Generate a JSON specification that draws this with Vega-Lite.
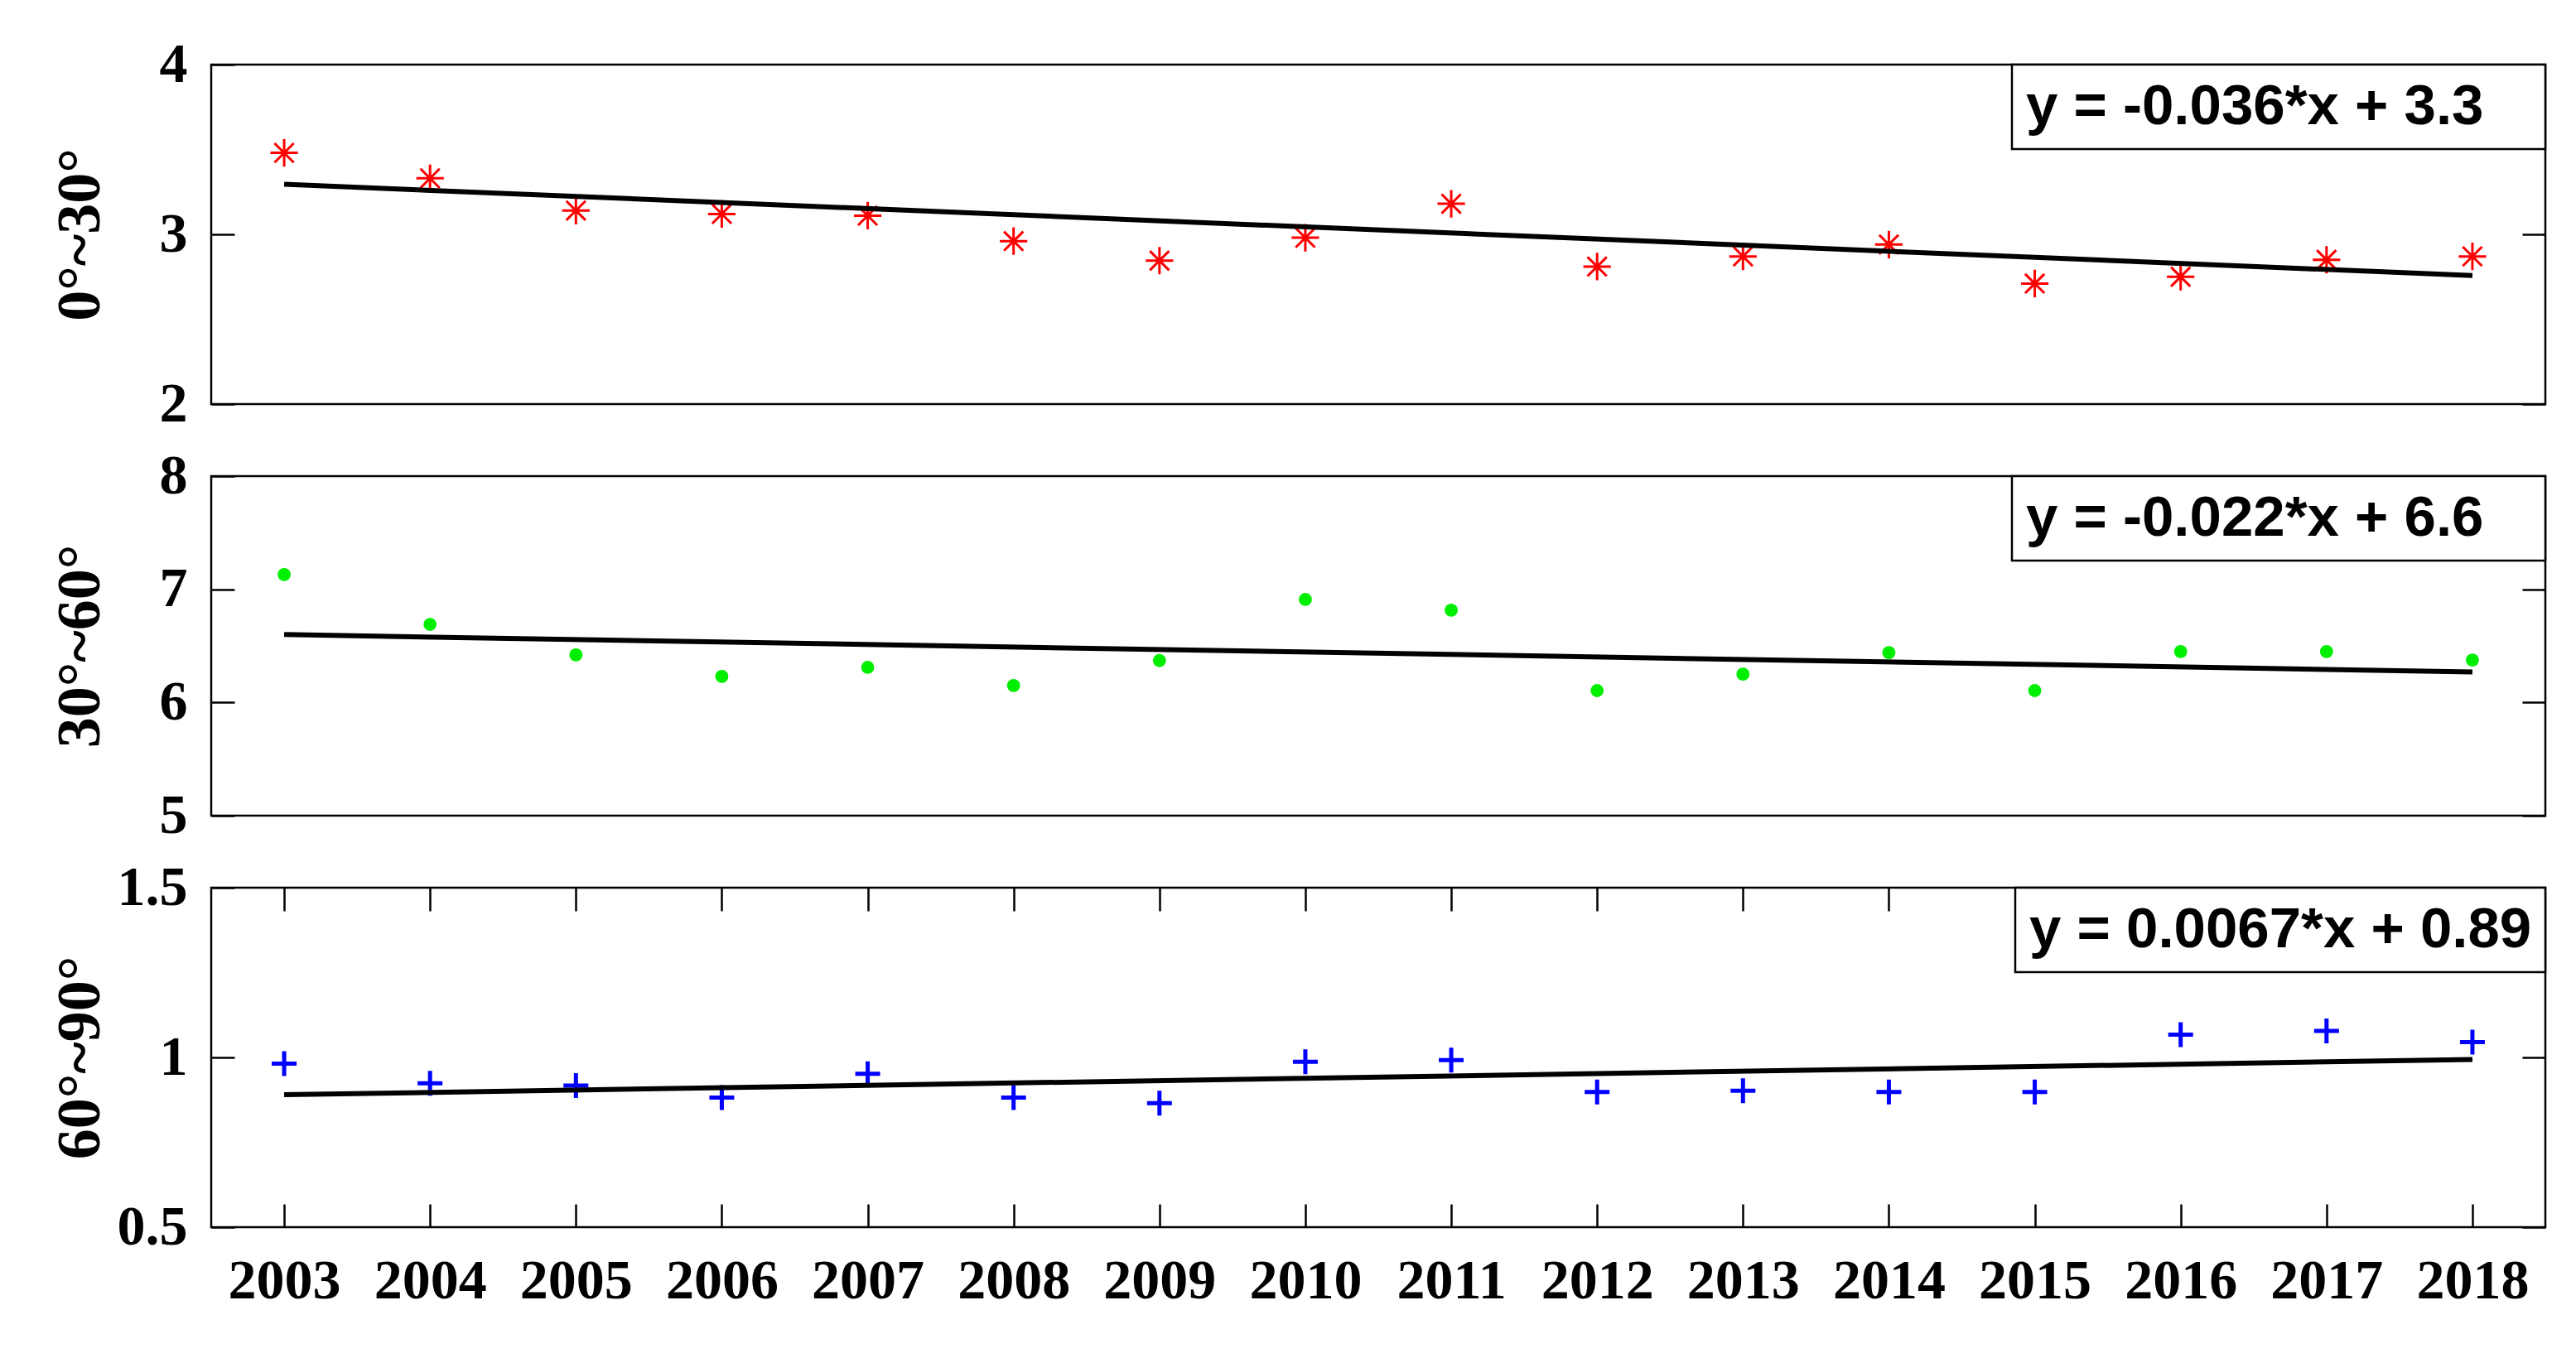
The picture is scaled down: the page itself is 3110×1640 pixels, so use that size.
{
  "$schema": "https://vega.github.io/schema/vega-lite/v6.json",
  "padding": {"left": 58, "top": 42, "right": 39, "bottom": 10},
  "background": "white",
  "spacing": 15,
  "datasets": {
    "p1": [
      {"year": 2003, "value": 3.48}, {"year": 2004, "value": 3.33}, {"year": 2005, "value": 3.14}, {"year": 2006, "value": 3.12},
      {"year": 2007, "value": 3.11}, {"year": 2008, "value": 2.96}, {"year": 2009, "value": 2.845}, {"year": 2010, "value": 2.98},
      {"year": 2011, "value": 3.18}, {"year": 2012, "value": 2.81}, {"year": 2013, "value": 2.87}, {"year": 2014, "value": 2.94},
      {"year": 2015, "value": 2.71}, {"year": 2016, "value": 2.75}, {"year": 2017, "value": 2.85}, {"year": 2018, "value": 2.87}
    ],
    "f1": [{"year": 2003, "value": 3.295}, {"year": 2018, "value": 2.757}],
    "p2": [
      {"year": 2003, "value": 7.13}, {"year": 2004, "value": 6.69}, {"year": 2005, "value": 6.42}, {"year": 2006, "value": 6.23},
      {"year": 2007, "value": 6.31}, {"year": 2008, "value": 6.15}, {"year": 2009, "value": 6.37}, {"year": 2010, "value": 6.91},
      {"year": 2011, "value": 6.815}, {"year": 2012, "value": 6.105}, {"year": 2013, "value": 6.25}, {"year": 2014, "value": 6.44},
      {"year": 2015, "value": 6.105}, {"year": 2016, "value": 6.45}, {"year": 2017, "value": 6.45}, {"year": 2018, "value": 6.375}
    ],
    "f2": [{"year": 2003, "value": 6.6}, {"year": 2018, "value": 6.27}],
    "p3": [
      {"year": 2003, "value": 0.982}, {"year": 2004, "value": 0.924}, {"year": 2005, "value": 0.917}, {"year": 2006, "value": 0.882},
      {"year": 2007, "value": 0.952}, {"year": 2008, "value": 0.882}, {"year": 2009, "value": 0.865}, {"year": 2010, "value": 0.987},
      {"year": 2011, "value": 0.992}, {"year": 2012, "value": 0.898}, {"year": 2013, "value": 0.902}, {"year": 2014, "value": 0.898},
      {"year": 2015, "value": 0.898}, {"year": 2016, "value": 1.067}, {"year": 2017, "value": 1.078}, {"year": 2018, "value": 1.045}
    ],
    "f3": [{"year": 2003, "value": 0.89}, {"year": 2018, "value": 0.994}]
  },
  "resolve": {"scale": {"color": "independent"}, "legend": {"color": "independent"}},
  "vconcat": [
    {
      "width": 2818, "height": 410,
      "resolve": {"scale": {"y": "independent"}},
      "layer": [
        {
          "data": {"name": "p1"},
          "mark": {"type": "point", "shape": "M0,-1L0,1M-1,0L1,0M-0.7,-0.7L0.7,0.7M-0.7,0.7L0.7,-0.7", "filled": false, "size": 1100, "strokeWidth": 3, "opacity": 1},
          "encoding": {
            "x": {"field": "year", "type": "quantitative", "scale": {"domain": [2002.5, 2018.5], "nice": false, "zero": false}, "axis": null},
            "y": {"field": "value", "type": "quantitative", "scale": {"domain": [2, 4], "nice": false, "zero": false},
                  "axis": {"orient": "left", "values": [2, 3, 4], "format": "~g", "ticks": true, "tickSize": -28, "title": "0°~30°", "titleX": -158, "titleY": 205, "titleAngle": -90, "titleAlign": "center", "titleBaseline": "middle"}},
            "color": {"datum": "y = -0.036*x + 3.3", "scale": {"range": ["#ff0000"]}, "legend": {"title": null, "symbolOffset": 577, "labelOffset": -645}}
          }
        },
        {
          "data": {"name": "f1"},
          "mark": {"type": "line", "color": "black", "strokeWidth": 6},
          "encoding": {
            "x": {"field": "year", "type": "quantitative", "scale": {"domain": [2002.5, 2018.5], "nice": false, "zero": false}, "axis": null},
            "y": {"field": "value", "type": "quantitative", "scale": {"domain": [2, 4], "nice": false, "zero": false},
                  "axis": {"orient": "right", "values": [2, 3, 4], "ticks": true, "tickSize": -28, "labels": false, "title": null}}
          }
        }
      ]
    },
    {
      "width": 2818, "height": 410,
      "resolve": {"scale": {"y": "independent"}},
      "layer": [
        {
          "data": {"name": "p2"},
          "mark": {"type": "point", "shape": "circle", "filled": true, "size": 250, "opacity": 1},
          "encoding": {
            "x": {"field": "year", "type": "quantitative", "scale": {"domain": [2002.5, 2018.5], "nice": false, "zero": false}, "axis": null},
            "y": {"field": "value", "type": "quantitative", "scale": {"domain": [5, 8], "nice": false, "zero": false},
                  "axis": {"orient": "left", "values": [5, 6, 7, 8], "format": "~g", "ticks": true, "tickSize": -28, "title": "30°~60°", "titleX": -158, "titleY": 205, "titleAngle": -90, "titleAlign": "center", "titleBaseline": "middle"}},
            "color": {"datum": "y = -0.022*x + 6.6", "scale": {"range": ["#00ee00"]}, "legend": {"title": null, "symbolOffset": 577, "labelOffset": -645}}
          }
        },
        {
          "data": {"name": "f2"},
          "mark": {"type": "line", "color": "black", "strokeWidth": 6},
          "encoding": {
            "x": {"field": "year", "type": "quantitative", "scale": {"domain": [2002.5, 2018.5], "nice": false, "zero": false}, "axis": null},
            "y": {"field": "value", "type": "quantitative", "scale": {"domain": [5, 8], "nice": false, "zero": false},
                  "axis": {"orient": "right", "values": [5, 6, 7, 8], "ticks": true, "tickSize": -28, "labels": false, "title": null}}
          }
        }
      ]
    },
    {
      "width": 2818, "height": 410,
      "resolve": {"scale": {"y": "independent", "x": "independent"}},
      "layer": [
        {
          "data": {"name": "p3"},
          "mark": {"type": "point", "shape": "M-1,0L1,0M0,-1L0,1", "filled": false, "size": 900, "strokeWidth": 5, "opacity": 1},
          "encoding": {
            "x": {"field": "year", "type": "quantitative", "scale": {"domain": [2002.5, 2018.5], "nice": false, "zero": false},
                  "axis": {"orient": "bottom", "values": [2003, 2004, 2005, 2006, 2007, 2008, 2009, 2010, 2011, 2012, 2013, 2014, 2015, 2016, 2017, 2018], "format": "d", "title": null, "labelPadding": 59}},
            "y": {"field": "value", "type": "quantitative", "scale": {"domain": [0.5, 1.5], "nice": false, "zero": false},
                  "axis": {"orient": "left", "values": [0.5, 1, 1.5], "format": "~g", "ticks": true, "tickSize": -28, "title": "60°~90°", "titleX": -158, "titleY": 205, "titleAngle": -90, "titleAlign": "center", "titleBaseline": "middle"}},
            "color": {"datum": "y = 0.0067*x + 0.89", "scale": {"range": ["#0000ff"]}, "legend": {"title": null, "symbolOffset": 545, "labelOffset": -613}}
          }
        },
        {
          "data": {"name": "f3"},
          "mark": {"type": "line", "color": "black", "strokeWidth": 6},
          "encoding": {
            "x": {"field": "year", "type": "quantitative", "scale": {"domain": [2002.5, 2018.5], "nice": false, "zero": false},
                  "axis": {"orient": "top", "values": [2003, 2004, 2005, 2006, 2007, 2008, 2009, 2010, 2011, 2012, 2013, 2014, 2015, 2016, 2017, 2018], "labels": false, "title": null}},
            "y": {"field": "value", "type": "quantitative", "scale": {"domain": [0.5, 1.5], "nice": false, "zero": false},
                  "axis": {"orient": "right", "values": [0.5, 1, 1.5], "ticks": true, "tickSize": -28, "labels": false, "title": null}}
          }
        }
      ]
    }
  ],
  "config": {
    "view": {"stroke": "black", "strokeWidth": 2.5},
    "axis": {
      "domain": false, "grid": false, "ticks": true, "tickColor": "black", "tickWidth": 2.5, "tickSize": -28,
      "labelFont": "Liberation Serif", "labelFontWeight": "bold", "labelFontSize": 68, "labelColor": "black", "labelOverlap": false, "labelPadding": 57,
      "titleFont": "Liberation Serif", "titleFontWeight": "bold", "titleFontSize": 74, "titleColor": "black"
    },
    "legend": {
      "orient": "top-right", "offset": 0, "padding": 16, "strokeColor": "black", "strokeWidth": 2.5, "fillColor": "white",
      "labelFont": "Liberation Sans", "labelFontWeight": "bold", "labelFontSize": 69, "labelColor": "black", "labelLimit": 0,
      "symbolSize": 0, "symbolOpacity": 0, "symbolStrokeWidth": 0
    }
  }
}
